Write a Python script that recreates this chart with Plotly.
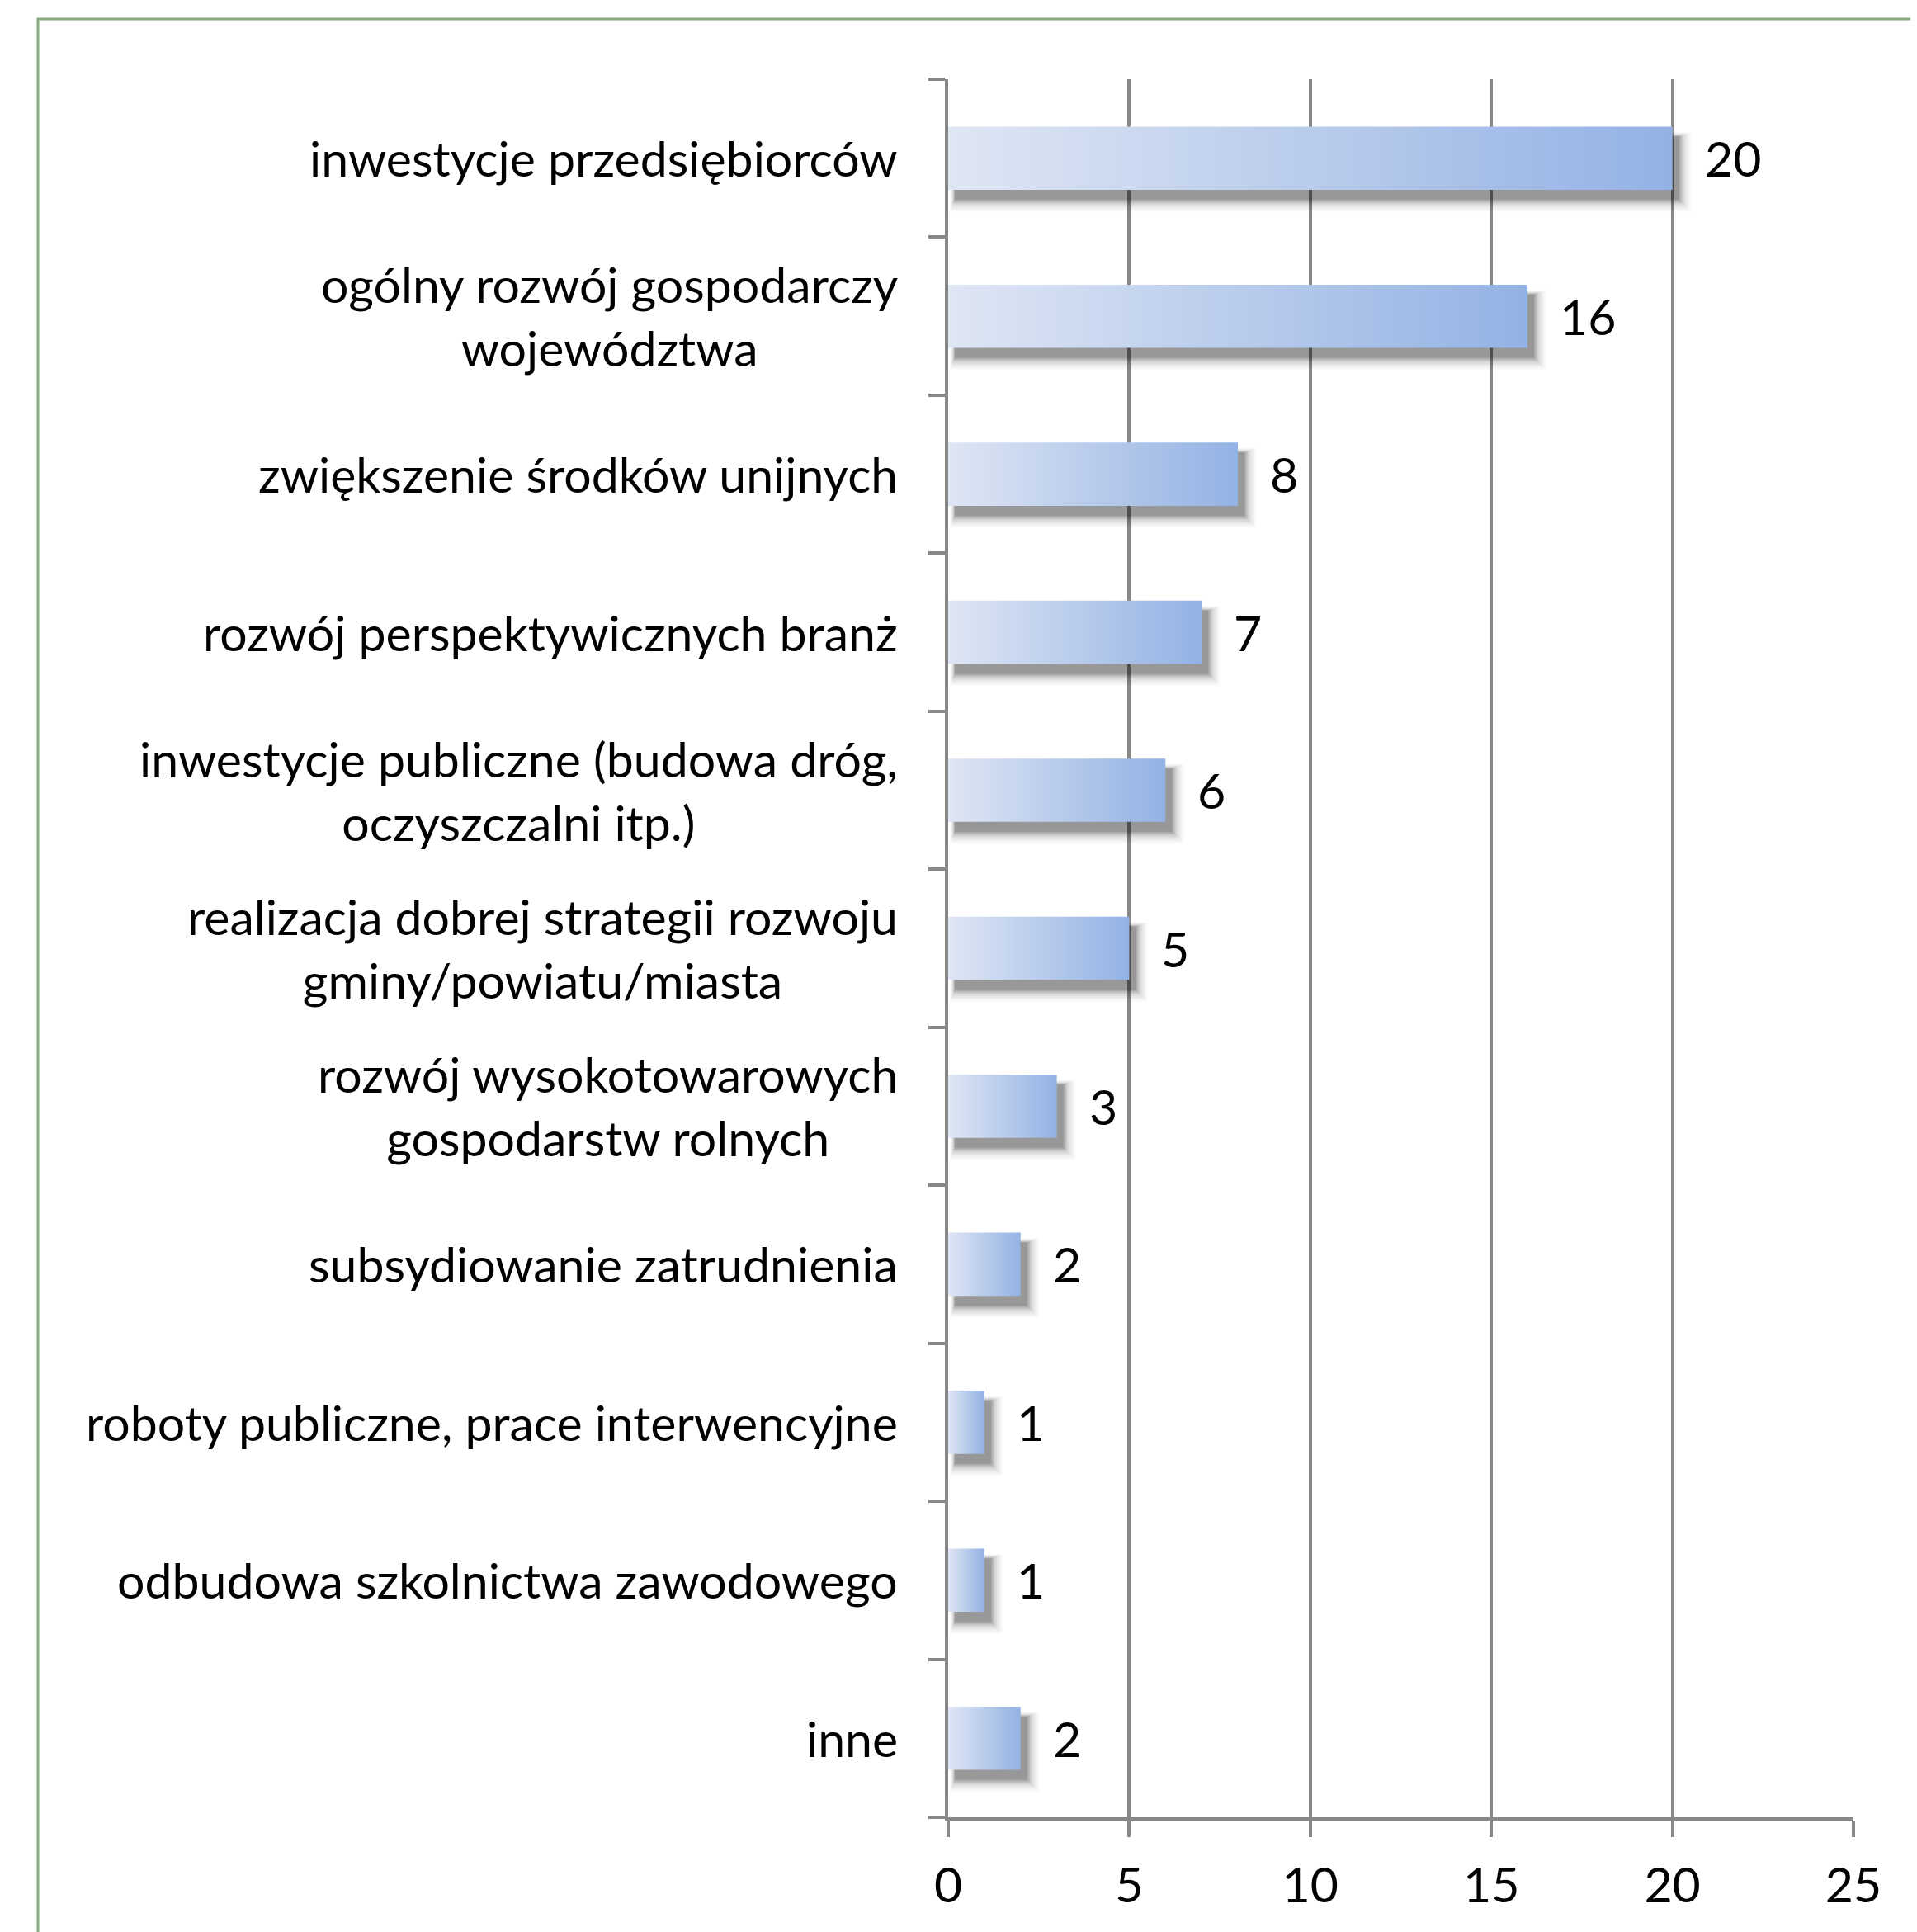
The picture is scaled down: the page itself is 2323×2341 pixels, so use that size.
import plotly.graph_objects as go

categories = [
    "inwestycje przedsiębiorców",
    "ogólny rozwój gospodarczy<br>województwa",
    "zwiększenie środków unijnych",
    "rozwój perspektywicznych branż",
    "inwestycje publiczne (budowa dróg,<br>oczyszczalni itp.)",
    "realizacja dobrej strategii rozwoju<br>gminy/powiatu/miasta",
    "rozwój wysokotowarowych<br>gospodarstw rolnych",
    "subsydiowanie zatrudnienia",
    "roboty publiczne, prace interwencyjne",
    "odbudowa szkolnictwa zawodowego",
    "inne",
]
values = [20, 16, 8, 7, 6, 5, 3, 2, 1, 1, 2]
x_ticks = [0, 5, 10, 15, 20, 25]

BODY = 8  # default page margin of the html body
W, H = 2323 - BODY, 2341 - BODY
ML, MR, MT, MB = 1149 - BODY, 77, 96 - BODY, 139
plot_w = W - ML - MR
plot_h = H - MT - MB
n = len(categories)
px_x = plot_w / 25.0          # pixels per x unit
px_y = plot_h / n             # pixels per category

FONT = "Lato"
FS = 59
GRID = "#878787"
half = 0.2

fig = go.Figure()

# shadows (blur emulated by stacked translucent layers)
sdx, sdy = 8, 12
layers = [(18, 0.025), (15, 0.03), (12, 0.04), (9, 0.05), (6, 0.07),
          (4, 0.08), (2, 0.09), (0, 0.10)]
for i, v in enumerate(values):
    for grow, a in layers:
        gx = grow / px_x
        gy = grow / px_y
        x0 = sdx / px_x - gx * 0.3
        x1 = v + sdx / px_x + gx * 0.8
        y0 = i - half + sdy / px_y - gy * 0.3
        y1 = i + half + sdy / px_y + gy * 0.8
        fig.add_trace(go.Scatter(
            x=[x0, x1, x1, x0, x0], y=[y0, y0, y1, y1, y0],
            mode="lines", fill="toself", line=dict(width=0),
            fillcolor=f"rgba(0,0,0,{a})", hoverinfo="skip", showlegend=False))

# bars with horizontal gradient
for i, (c, v) in enumerate(zip(categories, values)):
    fig.add_trace(go.Scatter(
        x=[0, v, v, 0, 0], y=[i - half, i - half, i + half, i + half, i - half],
        mode="lines", fill="toself", line=dict(width=0),
        fillgradient=dict(type="horizontal",
                          colorscale=[[0, "#dfe6f4"], [1, "#93b2e4"]]),
        name=c.replace("<br>", " "), showlegend=False))

annotations = []
for i, (c, v) in enumerate(zip(categories, values)):
    annotations.append(dict(
        x=0, xref="paper", y=i, yref="y", text=c, showarrow=False,
        xanchor="right", yanchor="middle", align="center", xshift=-59,
        font=dict(family=FONT, size=FS, color="black")))
    annotations.append(dict(
        x=v, xref="x", y=i, yref="y", text=str(v), showarrow=False,
        xanchor="left", yanchor="middle", xshift=37,
        font=dict(family=FONT, size=FS, color="black")))

# green chart-area border (partially cropped in the original)
shapes = [dict(
    type="rect", xref="paper", yref="paper",
    x0=(46 - BODY - ML) / plot_w, x1=(W + 50 - ML) / plot_w,
    y0=-(MB + 50) / plot_h, y1=1 + (MT - (23 - BODY)) / plot_h,
    line=dict(color="#86ab7f", width=3), fillcolor="rgba(0,0,0,0)", layer="below")]

fig.update_layout(
    width=W, height=H,
    margin=dict(l=ML, r=MR, t=MT, b=MB),
    paper_bgcolor="white", plot_bgcolor="white",
    annotations=annotations, shapes=shapes,
    xaxis=dict(range=[0, 25], tickvals=x_ticks, showgrid=True, gridcolor=GRID,
               gridwidth=3.5, zeroline=False, showline=True, linecolor=GRID,
               linewidth=4, ticks="outside", ticklen=20, tickwidth=3.5,
               tickcolor=GRID, ticklabelstandoff=8,
               tickfont=dict(family=FONT, size=FS, color="black")),
    yaxis=dict(range=[n - 0.5, -0.5], tickvals=[k - 0.5 for k in range(n + 1)],
               showticklabels=False, showgrid=False, zeroline=False,
               showline=True, linecolor=GRID, linewidth=4, ticks="outside",
               ticklen=20, tickwidth=3.5, tickcolor=GRID),
    showlegend=False,
)

fig.write_html("out.html")
